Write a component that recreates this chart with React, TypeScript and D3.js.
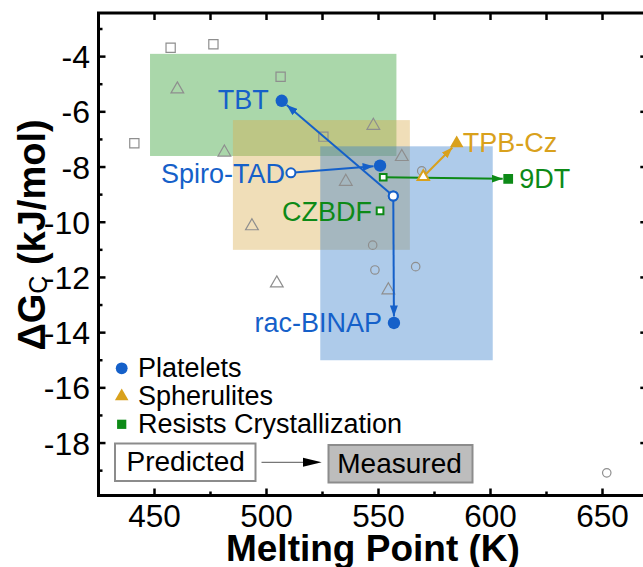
import React from "react";
import * as d3 from "d3";

// gray open markers: other compounds (melting point K, dG kJ/mol)
const otherSquares: [number, number][] = [
  [457.2, -3.68], [476.3, -3.55], [506.3, -4.73], [441.0, -7.14], [525.4, -6.9],
];
const otherTriangles: [number, number][] = [
  [460.2, -5.18], [481.2, -7.47], [547.7, -6.5], [560.4, -7.63],
  [535.4, -8.53], [493.5, -10.14], [504.6, -12.21], [554.4, -12.46],
];
const otherCircles: [number, number][] = [
  [547.4, -10.83], [548.4, -11.73], [566.6, -11.61], [569.3, -8.14], [651.9, -19.08],
];

// shaded regions per crystal habit
const regionHabits = ["Resists", "Spherulites", "Platelets"];
const regionMp: [number, number][] = [[448, 558], [485, 564], [524, 601]];
const regionG: [number, number][] = [[-7.6, -3.9], [-11, -6.3], [-15, -7.25]];

// labelled compounds, predicted -> measured
const compounds = ["TBT", "Spiro-TAD", "rac-BINAP", "CZBDF", "9DT", "TPB-Cz"];
const habits = ["Platelets", "Platelets", "Platelets", "Resists", "Resists", "Spherulites"];
const predicted: [number, number][] = [
  [556.6, -9.05], [510.9, -8.21], [556.6, -9.05], [550.7, -9.59], [552.1, -8.37], [570.0, -8.35],
];
const measured: ([number, number] | null)[] = [
  [506.8, -5.6], [550.7, -7.95], [556.9, -13.65], null, [607.9, -8.43], [584.9, -7.14],
];

const xTicks = [450, 500, 550, 600, 650];
const xMinor = [475, 525, 575, 625];
const yTicks = [-4, -6, -8, -10, -12, -14, -16, -18];
const yMinor = [-3, -5, -7, -9, -11, -13, -15, -17, -19];
const legendItems = ["Platelets", "Spherulites", "Resists Crystallization"];

const habitColor: Record<string, string> = {
  Platelets: "#1560c9",
  Spherulites: "#d9a11c",
  Resists: "#0d8a17",
};
const regionFill: Record<string, string> = {
  Platelets: "#357dcb",
  Spherulites: "#daad4e",
  Resists: "#2b9b2b",
};

// where each label sits relative to its anchor point
const labelPlace: Record<string, { on: "p" | "m"; side: "l" | "r"; gap: number; dy: number }> = {
  TBT: { on: "m", side: "l", gap: 13, dy: 8.5 },
  "Spiro-TAD": { on: "p", side: "l", gap: 6, dy: 10.5 },
  "rac-BINAP": { on: "m", side: "l", gap: 12, dy: 9 },
  CZBDF: { on: "p", side: "l", gap: 8, dy: 10.5 },
  "9DT": { on: "m", side: "r", gap: 11, dy: 9.5 },
  "TPB-Cz": { on: "m", side: "r", gap: 6, dy: 9 },
};

const FONT = "'Liberation Sans', Arial, Helvetica, sans-serif";
const gray = "#8e8e8e";

function shapePath(habit: string, size: number) {
  const type =
    habit === "Platelets" ? d3.symbolCircle : habit === "Spherulites" ? d3.symbolTriangle : d3.symbolSquare;
  return d3.symbol().type(type).size(size)()!;
}

export default function App() {
  const margin = { left: 98.5, top: 13, right: 647.3, bottom: 495.5 };
  const x = d3.scaleLinear().domain([425, 670]).range([margin.left, margin.right]);
  const y = d3.scaleLinear().domain([-19.9, -2.42]).range([margin.bottom, margin.top]);

  const filledSize = (h: string) => (h === "Platelets" ? 120 : h === "Spherulites" ? 80 : 95);
  const openSize = (h: string) => (h === "Platelets" ? 64 : h === "Spherulites" ? 55 : 45);
  const endGap = (h: string) => (h === "Platelets" ? 6.5 : h === "Spherulites" ? 6 : 5.5);

  return (
    <svg
      width={643}
      height={567}
      style={{ position: "absolute", left: 0, top: 0, display: "block", background: "#fff" }}
      fontFamily={FONT}
    >
      <defs>
        {Object.keys(habitColor).map((h) => (
          <marker
            key={h}
            id={"arr-" + h}
            markerUnits="userSpaceOnUse"
            markerWidth={11}
            markerHeight={8}
            refX={11}
            refY={4}
            orient="auto"
          >
            <path d="M0,0 L11,4 L0,8 Z" fill={habitColor[h]} />
          </marker>
        ))}
      </defs>

      {/* habit regions */}
      {regionHabits.map((h, i) => (
        <rect
          key={h}
          x={x(regionMp[i][0])}
          y={y(regionG[i][1])}
          width={x(regionMp[i][1]) - x(regionMp[i][0])}
          height={y(regionG[i][0]) - y(regionG[i][1])}
          fill={regionFill[h]}
          fillOpacity={0.4}
        />
      ))}

      {/* other compounds */}
      <g fill="none" stroke={gray} strokeWidth={1.2}>
        {otherSquares.map((d, i) => (
          <path key={"s" + i} d={shapePath("Resists", 85)} transform={`translate(${x(d[0])},${y(d[1])})`} />
        ))}
        {otherTriangles.map((d, i) => (
          <path key={"t" + i} d={shapePath("Spherulites", 70)} transform={`translate(${x(d[0])},${y(d[1])})`} />
        ))}
        {otherCircles.map((d, i) => (
          <path key={"c" + i} d={shapePath("Platelets", 56)} transform={`translate(${x(d[0])},${y(d[1])})`} />
        ))}
      </g>

      {/* predicted -> measured arrows */}
      {compounds.map((c, i) => {
        const m = measured[i];
        if (!m) return null;
        const h = habits[i];
        const x0 = x(predicted[i][0]);
        const y0 = y(predicted[i][1]);
        const x1 = x(m[0]);
        const y1 = y(m[1]);
        const len = Math.hypot(x1 - x0, y1 - y0);
        const g = endGap(h);
        return (
          <line
            key={"a" + c}
            x1={x0}
            y1={y0}
            x2={x1 - ((x1 - x0) * g) / len}
            y2={y1 - ((y1 - y0) * g) / len}
            stroke={habitColor[h]}
            strokeWidth={2}
            markerEnd={`url(#arr-${h})`}
          />
        );
      })}

      {/* predicted (open) markers */}
      {compounds.map((c, i) => (
        <path
          key={"p" + c}
          d={shapePath(habits[i], openSize(habits[i]))}
          transform={`translate(${x(predicted[i][0])},${y(predicted[i][1])})`}
          fill="#fff"
          stroke={habitColor[habits[i]]}
          strokeWidth={2}
        />
      ))}

      {/* measured (filled) markers */}
      {compounds.map((c, i) => {
        const m = measured[i];
        if (!m) return null;
        return (
          <path
            key={"m" + c}
            d={shapePath(habits[i], filledSize(habits[i]))}
            transform={`translate(${x(m[0])},${y(m[1])})`}
            fill={habitColor[habits[i]]}
          />
        );
      })}

      {/* compound labels */}
      {compounds.map((c, i) => {
        const p = labelPlace[c];
        const pt = p.on === "m" && measured[i] ? measured[i]! : predicted[i];
        return (
          <text
            key={"l" + c}
            x={x(pt[0]) + (p.side === "l" ? -p.gap : p.gap)}
            y={y(pt[1]) + p.dy}
            textAnchor={p.side === "l" ? "end" : "start"}
            fontSize={27}
            fill={habitColor[habits[i]]}
          >
            {c}
          </text>
        );
      })}

      {/* frame */}
      <rect
        x={margin.left}
        y={margin.top}
        width={margin.right - margin.left}
        height={margin.bottom - margin.top}
        fill="none"
        stroke="#000"
        strokeWidth={3}
      />

      {/* ticks, all pointing inward */}
      <g stroke="#000" strokeWidth={2.5}>
        {xTicks.map((t) => (
          <React.Fragment key={"xt" + t}>
            <line x1={x(t)} x2={x(t)} y1={margin.bottom} y2={margin.bottom - 7} />
            <line x1={x(t)} x2={x(t)} y1={margin.top} y2={margin.top + 7} />
          </React.Fragment>
        ))}
        {xMinor.map((t) => (
          <React.Fragment key={"xm" + t}>
            <line x1={x(t)} x2={x(t)} y1={margin.bottom} y2={margin.bottom - 4} />
            <line x1={x(t)} x2={x(t)} y1={margin.top} y2={margin.top + 7} />
          </React.Fragment>
        ))}
        {yTicks.map((t) => (
          <React.Fragment key={"yt" + t}>
            <line x1={margin.left} x2={margin.left + 7} y1={y(t)} y2={y(t)} />
            <line x1={margin.right} x2={margin.right - 7} y1={y(t)} y2={y(t)} />
          </React.Fragment>
        ))}
        {yMinor.map((t) => (
          <line key={"ym" + t} x1={margin.left} x2={margin.left + 4} y1={y(t)} y2={y(t)} />
        ))}
      </g>

      {/* tick labels */}
      {xTicks.map((t) => (
        <text key={"xl" + t} x={x(t)} y={527} textAnchor="middle" fontSize={31.5}>
          {t}
        </text>
      ))}
      {yTicks.map((t) => (
        <text key={"yl" + t} x={90} y={y(t) + 11.5} textAnchor="end" fontSize={32}>
          {t}
        </text>
      ))}

      {/* axis titles */}
      <text
        x={(margin.left + margin.right) / 2}
        y={560.5}
        textAnchor="middle"
        fontSize={37}
        fontWeight="bold"
      >
        Melting Point (K)
      </text>
      <text transform="translate(45,235) rotate(-90)" textAnchor="middle" fontSize={38} fontWeight="bold">
        ΔG
        <tspan fontSize={25} fontWeight="normal" dy={2}>
          C
        </tspan>
        <tspan dy={-2}> (kJ/mol)</tspan>
      </text>

      {/* legend */}
      {legendItems.map((name, i) => {
        const h = i === 2 ? "Resists" : name;
        const sz = h === "Platelets" ? 110 : h === "Spherulites" ? 80 : 85;
        const ly = 368.3 + i * 28;
        return (
          <g key={"lg" + name}>
            <path d={shapePath(h, sz)} transform={`translate(121.7,${ly})`} fill={habitColor[h]} />
            <text x={138} y={ly + 8.8} fontSize={27}>
              {name}
            </text>
          </g>
        );
      })}
      <rect x={115} y={443.5} width={140.5} height={37.5} fill="#fff" stroke="#8c8c8c" strokeWidth={2} />
      <text x={126.5} y={470.5} fontSize={28}>
        Predicted
      </text>
      <line x1={261.5} x2={305} y1={462.3} y2={462.3} stroke="#555" strokeWidth={1} />
      <path d="M303,457.8 L321.7,462.3 L303,466.8 Z" fill="#000" />
      <rect x={328.5} y={445} width={144} height={37.5} fill="#bdbdbd" stroke="#8c8c8c" strokeWidth={2} />
      <text x={337.3} y={473.3} fontSize={28}>
        Measured
      </text>
    </svg>
  );
}
